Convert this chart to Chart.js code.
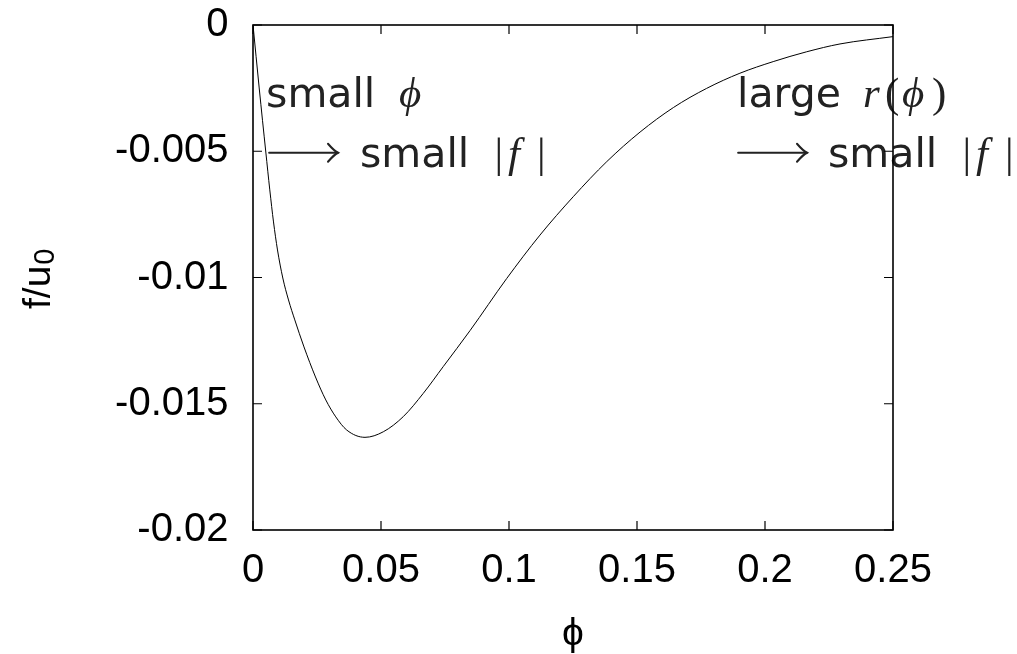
<!DOCTYPE html>
<html>
<head>
<meta charset="utf-8">
<script src="https://cdn.jsdelivr.net/npm/chart.js@4.4.0/dist/chart.umd.min.js"></script>
<style>
html,body{margin:0;padding:0;background:#fff;}
canvas{display:block;}
</style>
</head>
<body>
<canvas id="c" width="1017" height="654"></canvas>
<script>
// ---- data ----
const phi = [0, 0.00242, 0.0050, 0.00656, 0.00801, 0.00957, 0.01164, 0.01387, 0.01633, 0.01992, 0.02441, 0.02844, 0.03234, 0.0366, 0.04375, 0.0509, 0.0587, 0.0665, 0.0743, 0.0848, 0.0991, 0.1121, 0.1251, 0.1382, 0.1512, 0.1642, 0.1772, 0.1902, 0.2032, 0.2163, 0.2293, 0.25];
const fOverU0 = [0, -0.002495, -0.00503, -0.00653, -0.0078, -0.00891, -0.01002, -0.01089, -0.01168, -0.01275, -0.01394, -0.01485, -0.01552, -0.01604, -0.01633, -0.01611, -0.01551, -0.01459, -0.01353, -0.0121, -0.01004, -0.00832, -0.0068, -0.00541, -0.00424, -0.00327, -0.00251, -0.00191, -0.00145, -0.00106, -0.00075, -0.00046];
const xTicks = [0, 0.05, 0.1, 0.15, 0.2, 0.25];
const xTickLabels = ['0', '0.05', '0.1', '0.15', '0.2', '0.25'];
const yTicks = [0, -0.005, -0.01, -0.015, -0.02];
const yTickLabels = ['0', '-0.005', '-0.01', '-0.015', '-0.02'];
const xTitle = 'ϕ';
const yTitleMain = 'f/u';
const yTitleSub = '0';
// annotation text pieces: [text, style]
const noteLeft1 = [['small', 'sans'], ['ϕ', 'mi']];
const noteLeft2 = [['small', 'sans'], ['|', 'mr'], ['f', 'mi'], ['|', 'mr']];
const noteRight1 = [['large', 'sans'], ['r', 'mi'], ['(', 'mr'], ['ϕ', 'mi'], [')', 'mr']];
const noteRight2 = [['small', 'sans'], ['|', 'mr'], ['f', 'mi'], ['|', 'mr']];

// ---- styling / placement ----
const TICK_FAMILY = '"Liberation Sans", Arial, sans-serif';
const TICK_SIZE = 40;
const FONTS = {
  sans: '41px "DejaVu Sans", sans-serif',
  mi: 'italic 43px "Liberation Serif", "DejaVu Serif", serif',
  mr: '43px "Liberation Serif", "DejaVu Serif", serif'
};
// horizontal offsets (px) of every text piece from the start of its line
const offsLeft1 = [0, 133];
const offsBars = [0, 134.5, 148, 177];
const offsRight1 = [0, 126, 148, 165, 195];
// annotation anchors in data units (phi, f)
const noteLayout = [
  {parts: noteLeft1, offs: offsLeft1, x: 0.0051, y: -0.00325},
  {parts: noteLeft2, offs: offsBars, x: 0.0418, y: -0.00562, arrow: {x1: 0.0063, x2: 0.0332, y: -0.00506}},
  {parts: noteRight1, offs: offsRight1, x: 0.1891, y: -0.00325},
  {parts: noteRight2, offs: offsBars, x: 0.2246, y: -0.00562, arrow: {x1: 0.1895, x2: 0.2164, y: -0.00506}}
];

function drawParts(ctx, parts, offs, x, y) {
  parts.forEach(([t, st], i) => {
    ctx.font = FONTS[st];
    ctx.fillText(t, x + offs[i], y);
  });
}

function drawArrow(ctx, x1, x2, y) {
  ctx.save();
  ctx.strokeStyle = '#222';
  ctx.lineWidth = 2;
  ctx.lineCap = 'round';
  ctx.beginPath();
  ctx.moveTo(x1, y);
  ctx.lineTo(x2, y);
  ctx.stroke();
  ctx.beginPath();
  ctx.moveTo(x2 - 10, y - 9);
  ctx.quadraticCurveTo(x2 - 4, y - 2, x2, y);
  ctx.quadraticCurveTo(x2 - 4, y + 2, x2 - 10, y + 9);
  ctx.stroke();
  ctx.restore();
}

const decor = {
  id: 'decor',
  beforeDatasetsDraw(chart) {
    const ctx = chart.ctx, xs = chart.scales.x, ys = chart.scales.y;
    ctx.save();
    ctx.fillStyle = '#222';
    ctx.textAlign = 'left';
    ctx.textBaseline = 'alphabetic';
    for (const n of noteLayout) {
      drawParts(ctx, n.parts, n.offs, xs.getPixelForValue(n.x), ys.getPixelForValue(n.y));
      if (n.arrow) {
        drawArrow(ctx, xs.getPixelForValue(n.arrow.x1), xs.getPixelForValue(n.arrow.x2), ys.getPixelForValue(n.arrow.y));
      }
    }
    ctx.restore();
  },
  afterDatasetsDraw(chart) {
    const ctx = chart.ctx, a = chart.chartArea, xs = chart.scales.x, ys = chart.scales.y;
    const T = 9;
    ctx.save();
    ctx.strokeStyle = '#000';
    ctx.lineWidth = 1.2;
    ctx.beginPath();
    for (const t of xs.ticks) {
      const px = xs.getPixelForValue(t.value);
      ctx.moveTo(px, a.bottom); ctx.lineTo(px, a.bottom - T);
      ctx.moveTo(px, a.top); ctx.lineTo(px, a.top + T);
    }
    for (const t of ys.ticks) {
      const py = ys.getPixelForValue(t.value);
      ctx.moveTo(a.left, py); ctx.lineTo(a.left + T, py);
      ctx.moveTo(a.right, py); ctx.lineTo(a.right - T, py);
    }
    ctx.stroke();
    ctx.lineWidth = 1.6;
    ctx.strokeRect(a.left, a.top, a.right - a.left, a.bottom - a.top);
    ctx.restore();
  },
  afterDraw(chart) {
    const ctx = chart.ctx, a = chart.chartArea;
    ctx.save();
    ctx.fillStyle = '#000';
    ctx.font = '39px ' + TICK_FAMILY;
    ctx.textAlign = 'center';
    ctx.textBaseline = 'alphabetic';
    ctx.fillText(xTitle, (a.left + a.right) / 2, 645);
    ctx.translate(50, 309);
    ctx.rotate(-Math.PI / 2);
    ctx.textAlign = 'left';
    ctx.fillText(yTitleMain, 0, 0);
    const w = ctx.measureText(yTitleMain).width;
    ctx.font = '29px ' + TICK_FAMILY;
    ctx.fillText(yTitleSub, w + 1, 3.5);
    ctx.restore();
  }
};

new Chart(document.getElementById('c'), {
  type: 'line',
  data: {
    datasets: [{
      data: phi.map((v, i) => ({x: v, y: fOverU0[i]})),
      borderColor: '#000',
      borderWidth: 1,
      pointRadius: 0,
      fill: false,
      cubicInterpolationMode: 'monotone'
    }]
  },
  options: {
    responsive: false,
    animation: false,
    devicePixelRatio: 1,
    layout: {padding: {top: 25, right: 124, left: 0, bottom: 0}},
    plugins: {legend: {display: false}, tooltip: {enabled: false}},
    scales: {
      x: {
        type: 'linear',
        min: 0, max: 0.25,
        grid: {display: false, drawTicks: false},
        border: {display: false},
        afterBuildTicks: s => { s.ticks = xTicks.map(v => ({value: v})); },
        afterFit: s => { s.height = 124; s.paddingLeft = 0; s.paddingRight = 0; },
        ticks: {
          color: '#000',
          font: {family: TICK_FAMILY, size: TICK_SIZE},
          padding: 17,
          maxRotation: 0,
          autoSkip: false,
          callback: (v) => xTickLabels[xTicks.indexOf(v)] ?? ''
        }
      },
      y: {
        type: 'linear',
        min: -0.02, max: 0,
        grid: {display: false, drawTicks: false},
        border: {display: false},
        afterBuildTicks: s => { s.ticks = yTicks.map(v => ({value: v})); },
        afterFit: s => { s.width = 253; s.paddingTop = 0; s.paddingBottom = 0; },
        ticks: {
          color: '#000',
          font: {family: TICK_FAMILY, size: TICK_SIZE},
          padding: 24.5,
          autoSkip: false,
          callback: (v) => yTickLabels[yTicks.indexOf(v)] ?? ''
        }
      }
    }
  },
  plugins: [decor]
});
</script>
</body>
</html>
